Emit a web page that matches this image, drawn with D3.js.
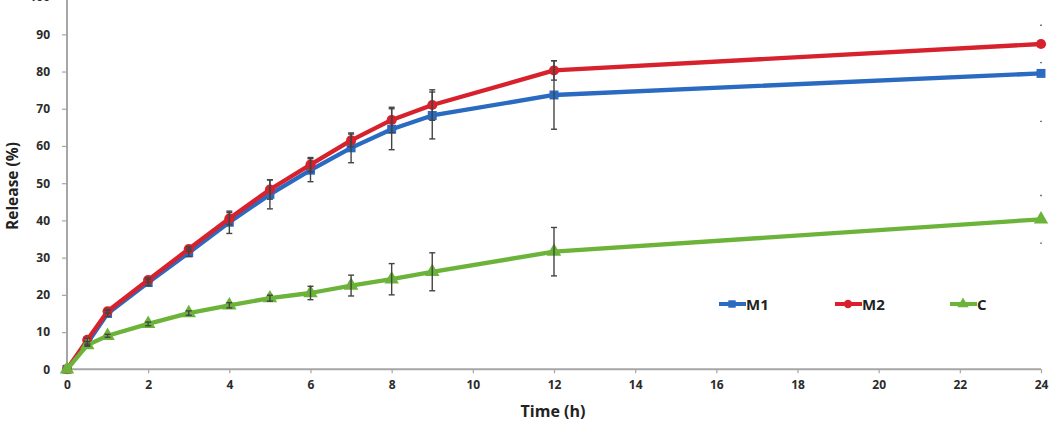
<!DOCTYPE html>
<html><head><meta charset="utf-8">
<script src="https://cdn.jsdelivr.net/npm/d3@7"></script>
<style>html,body{margin:0;padding:0;background:#fff;}svg{display:block;}</style>
</head><body>
<svg id="chart" width="1056" height="427"></svg>
<script>
const times = [0, 0.5, 1, 2, 3, 4, 5, 6, 7, 8, 9, 12, 24];
const m1Values = [0, 7, 15, 23.3, 31.3, 39.5, 47, 53.5, 59.5, 64.5, 68.2, 73.7, 79.5];
const m1Errors = [0, 0.5, 0.8, 0.8, 1, 3, 3.9, 3.1, 4, 5.5, 6.3, 9.2, 12.9];
const m2Values = [0, 7.9, 15.6, 24, 32.3, 40.5, 48.3, 55, 61.5, 67, 71, 80.3, 87.4];
const m2Errors = [0, 0.5, 0.5, 0.6, 0.6, 1.6, 2.6, 1.9, 1.7, 3.4, 4.1, 2.6, 5];
const cValues = [0, 6.5, 9.0, 12.2, 15.1, 17.2, 19.1, 20.5, 22.5, 24.2, 26.2, 31.6, 40.3];
const cErrors = [0, 0.3, 0.4, 0.5, 0.6, 0.7, 0.8, 1.8, 2.8, 4.2, 5.1, 6.5, 6.4];
const seriesNames = ["M1", "M2", "C"];
const xTicks = [0, 2, 4, 6, 8, 10, 12, 14, 16, 18, 20, 22, 24];
const yTicks = [0, 10, 20, 30, 40, 50, 60, 70, 80, 90, 100];

const colors = {M1: "#2a6ac0", M2: "#d7222d", C: "#6cb33a"};
const shapes = {M1: d3.symbolSquare, M2: d3.symbolCircle, C: d3.symbolTriangle};
const series = [
  {name: "M1", values: m1Values, errors: m1Errors},
  {name: "M2", values: m2Values, errors: m2Errors},
  {name: "C", values: cValues, errors: cErrors}
];

const svg = d3.select("#chart");
const x = d3.scaleLinear().domain([0, 24]).range([67, 1041]);
const y = d3.scaleLinear().domain([0, 100]).range([369.3, -2.9]);
const font = "'Open Sans', 'Liberation Sans', sans-serif";

// axes
const yAxis = svg.append("g").attr("transform", `translate(${x(0)},0)`)
  .call(d3.axisLeft(y).tickValues(yTicks).tickSize(5).tickPadding(12).tickFormat(d3.format("d")));
const xAxis = svg.append("g").attr("transform", `translate(0,${y(0)})`)
  .call(d3.axisBottom(x).tickValues(xTicks).tickSize(4).tickPadding(7).tickFormat(d3.format("d")));
[yAxis, xAxis].forEach(g => {
  g.select(".domain").attr("stroke", "#a6a6a6").attr("stroke-width", 2);
  g.selectAll(".tick line").attr("stroke", "#a6a6a6").attr("stroke-width", 1.2);
  g.selectAll(".tick text").attr("fill", "#2b2b2b").style("font-family", font)
   .style("font-weight", "bold").style("font-size", "12px");
});
xAxis.select(".domain").attr("d", `M${x(0)},0H${x(24)}`);
yAxis.select(".domain").attr("d", `M0,${y(0)}V0`);

// axis titles
svg.append("text").attr("transform", `translate(18,${186}) rotate(-90)`)
  .attr("text-anchor", "middle").attr("fill", "#222").style("font-family", font)
  .style("font-weight", "bold").style("font-size", "15.5px").text("Release (%)");
svg.append("text").attr("x", 553).attr("y", 417)
  .attr("text-anchor", "middle").attr("fill", "#222").style("font-family", font)
  .style("font-weight", "bold").style("font-size", "16px").text("Time (h)");

// lines
const line = d3.line().x(d => x(d.t)).y(d => y(d.v));
series.forEach(s => {
  const pts = times.map((t, i) => ({t, v: s.values[i], e: s.errors[i]}));
  s.pts = pts;
  svg.append("path").datum(pts).attr("d", line).attr("fill", "none")
    .attr("stroke", colors[s.name]).attr("stroke-width", 4.3).attr("stroke-linejoin", "round");
  svg.selectAll(null).data(pts).enter().append("path")
    .attr("transform", d => `translate(${x(d.t)},${y(d.v)})`)
    .attr("d", d3.symbol().type(shapes[s.name]).size(s.name === "C" ? 90 : 80))
    .attr("fill", colors[s.name]);
});

// error bars
series.forEach(s => {
  const g = svg.append("g").attr("stroke", "#444").attr("stroke-width", 1.4);
  s.pts.filter(d => d.e > 0).forEach(d => {
    const cx = x(d.t), y1 = y(d.v + d.e), y2 = y(d.v - d.e);
    if (d.t === 24) {
      g.append("line").attr("x1", cx - 1).attr("x2", cx + 1).attr("y1", y1).attr("y2", y1).attr("stroke", "#777");
      g.append("line").attr("x1", cx - 1).attr("x2", cx + 1).attr("y1", y2).attr("y2", y2).attr("stroke", "#777");
      return;
    }
    g.append("line").attr("x1", cx).attr("x2", cx).attr("y1", y1).attr("y2", y2);
    g.append("line").attr("x1", cx - 3).attr("x2", cx + 3).attr("y1", y1).attr("y2", y1);
    g.append("line").attr("x1", cx - 3).attr("x2", cx + 3).attr("y1", y2).attr("y2", y2);
  });
});

// legend
const legendX = [719, 835, 950];
const legend = svg.append("g");
seriesNames.forEach((n, i) => {
  const lx = legendX[i], ly = 304;
  legend.append("line").attr("x1", lx).attr("x2", lx + 27).attr("y1", ly).attr("y2", ly)
    .attr("stroke", colors[n]).attr("stroke-width", 4);
  legend.append("path").attr("transform", `translate(${lx + 13},${ly})`)
    .attr("d", d3.symbol().type(shapes[n]).size(55)).attr("fill", colors[n]);
  legend.append("text").attr("x", lx + 27).attr("y", ly + 5.5).attr("fill", "#222")
    .style("font-family", font).style("font-weight", "bold").style("font-size", "15px").text(n);
});
</script>
</body></html>
